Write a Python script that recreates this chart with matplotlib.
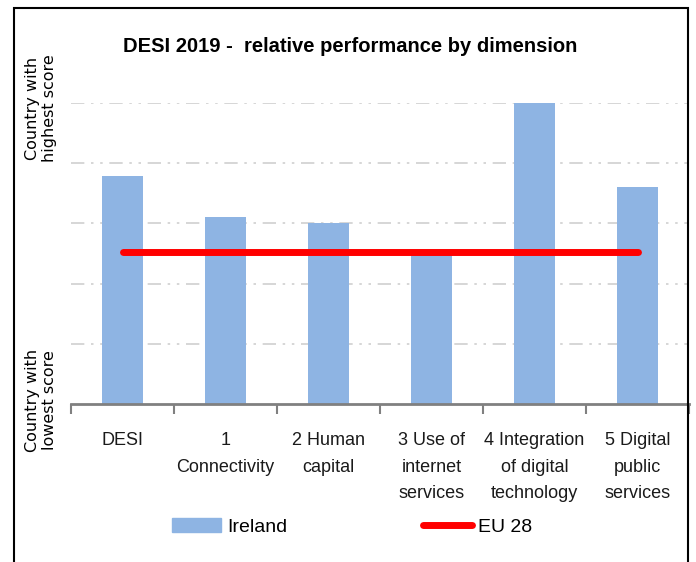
import numpy as np
import matplotlib.pyplot as plt
from matplotlib.patches import Rectangle
from matplotlib.lines import Line2D

plt.rcParams['font.family'] = ['Liberation Sans', 'DejaVu Sans']

# 数据
categories = ["DESI", "1\nConnectivity", "2 Human\ncapital", "3 Use of\ninternet\nservices",
              "4 Integration\nof digital\ntechnology", "5 Digital\npublic\nservices"]
ireland = [3.78, 3.1, 3.0, 2.47, 5.0, 3.6]
eu28 = [2.52, 2.52, 2.52, 2.52, 2.52, 2.52]

fig = plt.figure(figsize=(6.96, 5.62), dpi=100)
W, H = 696, 562
# 坐标轴位置（像素 -> 比例）
ax = fig.add_axes([71 / W, 1 - 404 / H, 618 / W, 301 / H])

x = np.arange(len(categories))
ax.bar(x, ireland, width=0.4, color='#8eb4e3', zorder=2, label='Ireland')
ax.plot(x, eu28, color='#ff0000', lw=5, solid_capstyle='round', zorder=3, label='EU 28')

ax.set_xlim(-0.5, len(categories) - 0.5)
ax.set_ylim(0, 5)
ax.set_yticks([1, 2, 3, 4, 5])
ax.set_yticklabels([])
ax.tick_params(axis='y', length=0)
ax.yaxis.grid(True, color='#d0d0d0', lw=1.2, linestyle=(0, (8, 4, 1.5, 4, 1.5, 4)), zorder=0)

ax.set_xticks(x)
ax.set_xticklabels(categories, fontsize=13, color='#1a1a1a', va='top', linespacing=1.75)
ax.tick_params(axis='x', which='major', length=0, pad=20)
ax.set_xticks(np.arange(-0.5, len(categories)), minor=True)
ax.tick_params(axis='x', which='minor', length=7, width=1.5, color='#808080')

for s in ['top', 'right', 'left']:
    ax.spines[s].set_visible(False)
ax.spines['bottom'].set_color('#808080')
ax.spines['bottom'].set_linewidth(2)

fig.text(350 / W, 1 - 47 / H, "DESI 2019 -  relative performance by dimension",
         ha='center', va='center', fontsize=14.5, fontweight='bold')
fig.text(41 / W, 1 - 108 / H, "Country with\nhighest score", rotation=90,
         ha='center', va='center', fontsize=11.5, family=['DejaVu Sans'], linespacing=1.1)
fig.text(41 / W, 1 - 400 / H, "Country with\nlowest score", rotation=90,
         ha='center', va='center', fontsize=11.5, family=['DejaVu Sans'], linespacing=1.1)

# 图例
handles = [Rectangle((0, 0), 1, 1, color='#8eb4e3'),
           Line2D([0], [0], color='#ff0000', lw=5, solid_capstyle='round')]
fig.legend(handles, ['Ireland', 'EU 28'], loc='center', bbox_to_anchor=(352 / W, 1 - 527 / H),
           ncol=2, frameon=False, fontsize=14, columnspacing=7, handlelength=2.5,
           handletextpad=0.3)

# 外框
fig.add_artist(Rectangle((14 / W, -0.1), (688 - 14) / W, 1.1 - 8 / H, fill=False,
                         edgecolor='black', lw=1.5, transform=fig.transFigure))

fig.savefig('out.png', dpi=100)
